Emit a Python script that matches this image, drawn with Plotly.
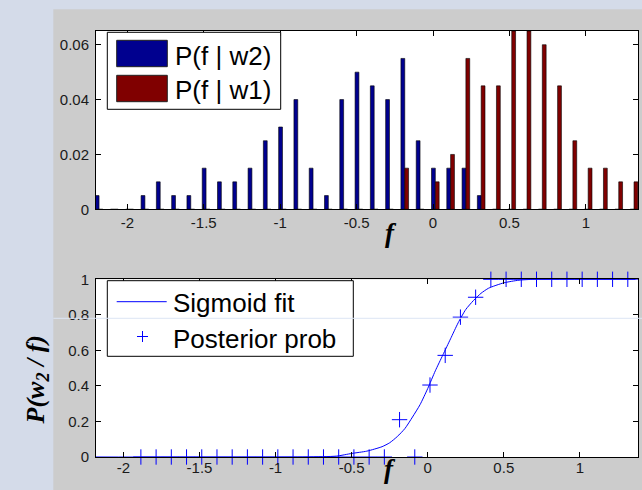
import plotly.graph_objects as go

# ---------------- data ----------------
bin_centers = [-2.185, -2.085, -1.985, -1.885, -1.785, -1.685, -1.585, -1.485, -1.385,
               -1.285, -1.185, -1.085, -0.985, -0.885, -0.785, -0.685, -0.585, -0.485,
               -0.385, -0.285, -0.185, -0.085, 0.015, 0.115, 0.215, 0.315, 0.415,
               0.515, 0.615, 0.715, 0.815, 0.915, 1.015, 1.115, 1.215, 1.315]
p_f_w2 = [0.005, 0, 0, 0.005, 0.01, 0.005, 0.005, 0.015, 0.01,
          0.01, 0.015, 0.025, 0.03, 0.04, 0.015, 0.005, 0.04, 0.05,
          0.045, 0.04, 0.055, 0.025, 0.015, 0.015, 0.015, 0.005, 0,
          0, 0, 0, 0, 0, 0, 0, 0, 0]
p_f_w1 = [0, 0, 0, 0, 0, 0, 0, 0, 0,
          0, 0, 0, 0, 0, 0, 0, 0, 0,
          0, 0, 0.015, 0, 0.01, 0.02, 0.055, 0.045, 0.045,
          0.065, 0.065, 0.06, 0.045, 0.025, 0.015, 0.015, 0.01, 0.01]

post_f = [-2.185, -1.885, -1.785, -1.685, -1.585, -1.485, -1.385, -1.285, -1.185,
          -1.085, -0.985, -0.885, -0.785, -0.685, -0.585, -0.485, -0.385, -0.285,
          -0.185, -0.085, 0.015, 0.115, 0.215, 0.315,
          0.415, 0.515, 0.615, 0.715, 0.815, 0.915, 1.015, 1.115, 1.215, 1.315]
post_p = [0, 0, 0, 0, 0, 0, 0, 0, 0,
          0, 0, 0, 0, 0, 0, 0, 0, 0,
          0.21, 0.0, 0.405, 0.572, 0.787, 0.899,
          1, 1, 1, 1, 1, 1, 1, 1, 1, 1]

sig_f = [-2.18, -0.8, -0.6, -0.5, -0.4, -0.3, -0.25, -0.2, -0.15, -0.1, -0.05, 0.0,
         0.05, 0.1, 0.15, 0.2, 0.25, 0.3, 0.35, 0.4, 0.5, 0.6, 0.7, 1.382]
sig_p = [0, 0, 0.005, 0.02, 0.033, 0.058, 0.08, 0.115, 0.16, 0.225, 0.295, 0.385,
         0.485, 0.575, 0.665, 0.755, 0.83, 0.88, 0.921, 0.95, 0.98, 0.995, 1, 1]

top_yticks = [0, 0.02, 0.04, 0.06]
top_yticktext = ["0", "0.02", "0.04", "0.06"]
bot_yticks = [0, 0.2, 0.4, 0.6, 0.8, 1]
bot_yticktext = ["0", "0.2", "0.4", "0.6", "0.8", "1"]
xticks = [-2, -1.5, -1, -0.5, 0, 0.5, 1]
xticktext = ["-2", "-1.5", "-1", "-0.5", "0", "0.5", "1"]

legend_top = ["P(f | w2)", "P(f | w1)"]
legend_bot = ["Sigmoid fit", "Posterior prob"]

# ---------------- styling ----------------
W, H = 642, 490
ML, MR, MT, MB = 96, 4, 31, 33
PW, PH = W - ML - MR, H - MT - MB

def px(x):
    return (x - ML) / PW

def py(y):
    return (H - MB - y) / PH

BLUE_BAR = "#00008F"
RED_BAR = "#800000"
LINE_BLUE = "#0000FF"
SANS = "Liberation Sans, Arial, sans-serif"
SERIF = "Liberation Serif, Times New Roman, serif"

fig = go.Figure()
fig.add_trace(go.Bar(x=bin_centers, y=p_f_w2, name=legend_top[0], marker_color=BLUE_BAR,
                     marker_line=dict(color="#000000", width=0.6), xaxis="x", yaxis="y",
                     showlegend=False))
fig.add_trace(go.Bar(x=bin_centers, y=p_f_w1, name=legend_top[1], marker_color=RED_BAR,
                     marker_line=dict(color="#000000", width=0.6), xaxis="x", yaxis="y",
                     showlegend=False))
fig.add_trace(go.Scatter(x=sig_f, y=sig_p, mode="lines", name=legend_bot[0],
                         line=dict(color=LINE_BLUE, width=1, shape="spline", smoothing=0.6),
                         xaxis="x2", yaxis="y2", showlegend=False))
fig.add_trace(go.Scatter(x=post_f, y=post_p, mode="markers", name=legend_bot[1],
                         marker=dict(symbol="cross-thin", size=11, color=LINE_BLUE,
                                     line=dict(color=LINE_BLUE, width=1)),
                         cliponaxis=False, xaxis="x2", yaxis="y2", showlegend=False))

axis_common = dict(showline=True, linecolor="#000000", linewidth=1, mirror="ticks",
                   ticks="inside", ticklen=5, tickcolor="#000000", tickwidth=1,
                   showgrid=False, zeroline=False,
                   tickfont=dict(family=SANS, size=15, color="#1a1a1a"))

top_dom = [py(209.3), 1]
bot_dom = [0, py(279.3)]

fig.update_layout(
    width=W, height=H,
    margin=dict(l=ML, r=MR, t=MT, b=MB, pad=0),
    paper_bgcolor="#CCCCCC", plot_bgcolor="#FFFFFF",
    barmode="group", bargap=0.5, bargroupgap=0,
    showlegend=False,
    xaxis=dict(domain=[0, 1], anchor="y", range=[-2.205, 1.341],
               tickvals=xticks, ticktext=xticktext, ticklabelstandoff=0, **axis_common),
    yaxis=dict(domain=top_dom, anchor="x", range=[0, 0.065],
               tickvals=top_yticks, ticktext=top_yticktext, ticklabelstandoff=3, **axis_common),
    xaxis2=dict(domain=[0, 1], anchor="y2", range=[-2.18, 1.382],
                tickvals=xticks, ticktext=xticktext, ticklabelstandoff=-3, **axis_common),
    yaxis2=dict(domain=bot_dom, anchor="x2", range=[0, 1],
                tickvals=bot_yticks, ticktext=bot_yticktext, ticklabelstandoff=3, **axis_common),
)

shapes = []
# slide background strips
shapes.append(dict(type="rect", xref="paper", yref="paper", x0=px(0), x1=px(53.3),
                   y0=py(H), y1=py(0), fillcolor="#D4DBE9", line_width=0, layer="below"))
shapes.append(dict(type="rect", xref="paper", yref="paper", x0=px(0), x1=px(W),
                   y0=py(9.3), y1=py(0), fillcolor="#D4DBE9", line_width=0, layer="below"))

# top legend (manual, MATLAB style)
shapes.append(dict(type="rect", xref="paper", yref="paper", x0=px(107.3), x1=px(280.7),
                   y0=py(109.3), y1=py(32.3), fillcolor="#FFFFFF",
                   line=dict(color="#000000", width=1), layer="above"))
shapes.append(dict(type="rect", xref="paper", yref="paper", x0=px(116.7), x1=px(167.3),
                   y0=py(66.7), y1=py(40.3), fillcolor=BLUE_BAR,
                   line=dict(color="#222222", width=1), layer="above"))
shapes.append(dict(type="rect", xref="paper", yref="paper", x0=px(116.7), x1=px(167.3),
                   y0=py(101.7), y1=py(75.3), fillcolor=RED_BAR,
                   line=dict(color="#222222", width=1), layer="above"))

# bottom legend
shapes.append(dict(type="rect", xref="paper", yref="paper", x0=px(107.3), x1=px(353.3),
                   y0=py(356.3), y1=py(280.7), fillcolor="#FFFFFF",
                   line=dict(color="#000000", width=1), layer="above"))
shapes.append(dict(type="line", xref="paper", yref="paper", x0=px(116.7), x1=px(166.7),
                   y0=py(301.7), y1=py(301.7), line=dict(color=LINE_BLUE, width=1), layer="above"))
shapes.append(dict(type="line", xref="paper", yref="paper", x0=px(137.0), x1=px(148.0),
                   y0=py(336.5), y1=py(336.5), line=dict(color=LINE_BLUE, width=1), layer="above"))
shapes.append(dict(type="line", xref="paper", yref="paper", x0=px(142.5), x1=px(142.5),
                   y0=py(331.0), y1=py(342.0), line=dict(color=LINE_BLUE, width=1), layer="above"))

# faint horizontal artefact line
shapes.append(dict(type="line", xref="paper", yref="paper", x0=px(53.3), x1=px(W),
                   y0=py(318.3), y1=py(318.3), line=dict(color="#DCE5F4", width=1), layer="above"))

fig.update_layout(shapes=shapes)

annotations = []
annotations.append(dict(xref="paper", yref="paper", x=px(173), y=py(55.5), text=legend_top[0],
                        showarrow=False, xanchor="left", yanchor="middle",
                        font=dict(family=SANS, size=26, color="#000000")))
annotations.append(dict(xref="paper", yref="paper", x=px(173), y=py(90.5), text=legend_top[1],
                        showarrow=False, xanchor="left", yanchor="middle",
                        font=dict(family=SANS, size=26, color="#000000")))
annotations.append(dict(xref="paper", yref="paper", x=px(171), y=py(303), text=legend_bot[0],
                        showarrow=False, xanchor="left", yanchor="middle",
                        font=dict(family=SANS, size=26, color="#000000")))
annotations.append(dict(xref="paper", yref="paper", x=px(171), y=py(339), text=legend_bot[1],
                        showarrow=False, xanchor="left", yanchor="middle",
                        font=dict(family=SANS, size=26, color="#000000")))
# axis labels
annotations.append(dict(xref="paper", yref="paper", x=px(391), y=py(233), text="<b><i>f</i></b>",
                        showarrow=False, xanchor="center", yanchor="middle",
                        font=dict(family=SERIF, size=27, color="#000000")))
annotations.append(dict(xref="paper", yref="paper", x=px(390), y=py(469), text="<b><i>f</i></b>",
                        showarrow=False, xanchor="center", yanchor="middle",
                        font=dict(family=SERIF, size=27, color="#000000")))
annotations.append(dict(xref="paper", yref="paper", x=px(36.5), y=py(380),
                        text="<b><i>P(w<sub>2</sub> / f)</i></b>", textangle=-90,
                        showarrow=False, xanchor="center", yanchor="middle",
                        font=dict(family=SERIF, size=26, color="#000000")))
fig.update_layout(annotations=annotations)

fig.write_html("out.html")
